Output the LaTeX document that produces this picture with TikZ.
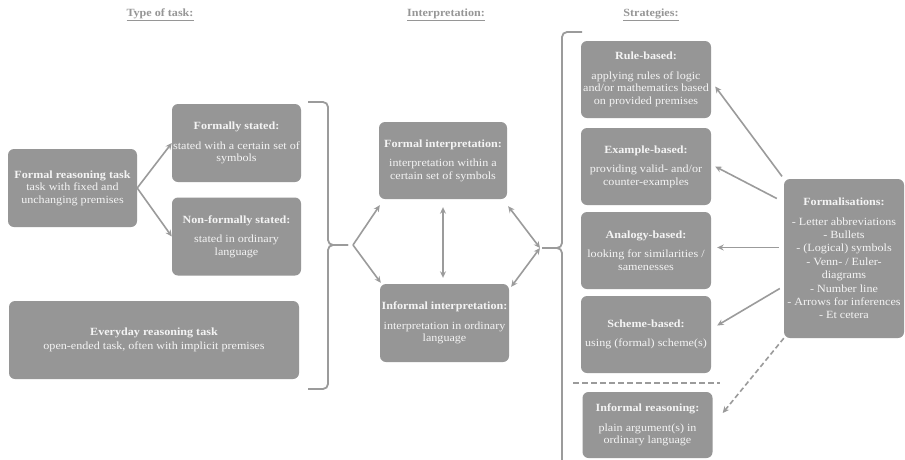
\documentclass[tikz,border=0pt]{standalone}
\usepackage{fontspec}
\setmainfont{Liberation Serif}[FakeStretch=1.1]
\usepackage{xcolor}
\usetikzlibrary{arrows.meta}

\definecolor{boxgray}{RGB}{150,150,150}
\definecolor{boxtext}{RGB}{244,244,244}
\definecolor{linegray}{RGB}{155,155,155}

\tikzset{
  box/.style={rectangle,rounded corners=6pt,fill=boxgray,text=boxtext,align=center,
    inner sep=1pt,minimum width=129pt,minimum height=78pt,
    font=\fontsize{11}{12.5}\selectfont},
  hdr/.style={text=boxgray,font=\fontsize{11}{12}\selectfont\bfseries},
  arr/.style={draw=linegray,line width=1.6pt,-{Stealth[length=6.5pt,width=6pt]}},
  darr/.style={draw=linegray,line width=1.6pt,{Stealth[length=6.5pt,width=6pt]}-{Stealth[length=6.5pt,width=6pt]}},
  brc/.style={draw=linegray,line width=1.8pt,rounded corners=5pt}
}

\begin{document}
\begin{tikzpicture}[x=1pt,y=-1pt]
        \useasboundingbox[fill=white] (0,0) rectangle (905,459);
        % Headers
        \node[hdr] (h1) at (160,15) {\underline{Type of task:}};
        \node[hdr] (h2) at (446,15) {\underline{Interpretation:}};
        \node[hdr] (h3) at (651,15) {\underline{Strategies:}};
        % Type of task
        \node[box] (ft) at (72.5,188) {\textbf{Formal reasoning task}\\task with fixed and\\unchanging premises};
        \node[box] (fs) at (236.5,143) {\textbf{Formally stated:}\\[7pt]stated with a certain set of\\symbols};
        \node[box] (nf) at (236.5,236.5) {\textbf{Non-formally stated:}\\[7pt]stated in ordinary\\language};
        \node[box,minimum width=290pt] (ev) at (154,340) {\textbf{Everyday reasoning task}\\[2pt]open-ended task, often with implicit premises};
        % Interpretation
        \node[box,minimum width=128pt,minimum height=77pt] (fi) at (443,160.5) {\textbf{Formal interpretation:}\\[7pt]interpretation within a\\certain set of symbols};
        \node[box] (ii) at (444.5,323) {\textbf{Informal interpretation:}\\[7pt]interpretation in ordinary\\language};
        % Strategies
        \node[box,minimum width=130pt,minimum height=77pt] (rb) at (646,79.5) {\textbf{Rule-based:}\\[7pt]applying rules of logic\\and/or mathematics based\\on provided premises};
        \node[box,minimum width=130pt,minimum height=77pt] (eb) at (646,166.5) {\textbf{Example-based:}\\[7pt]providing valid- and/or\\counter-examples};
        \node[box,minimum width=130pt,minimum height=77pt] (ab) at (646,250.5) {\textbf{Analogy-based:}\\[7pt]looking for similarities /\\samenesses};
        \node[box,minimum width=130pt,minimum height=77pt] (sb) at (646,334.5) {\textbf{Scheme-based:}\\[7pt]using (formal) scheme(s)};
        \node[box,minimum width=130pt,minimum height=66pt] (ir) at (647.5,425) {\textbf{Informal reasoning:}\\[7pt]plain argument(s) in\\ordinary language};
        % Formalisations
        \node[box,minimum width=120pt,minimum height=159pt,font=\fontsize{11}{13.4}\selectfont] (fm) at (844,258.5) {\textbf{Formalisations:}\\[6pt]- Letter abbreviations\\- Bullets\\- (Logical) symbols\\- Venn- / Euler-\\diagrams\\- Number line\\- Arrows for inferences\\- Et cetera};
        % Braces
        \draw[brc] (308,102) -| (328,245) -- (348,245);
        \draw[brc] (308,389) -| (328,245) -- (348,245);
        \draw[brc] (582,32) -| (562,248) -- (542,248);
        \draw[brc] (582,466) -| (562,248) -- (542,248);
        \coordinate (t1) at (353,245);
        \coordinate (t2) at (540,248);
        % Separator
        \draw[linegray,line width=1.8pt,dash pattern=on 6pt off 3pt] (573,383) -- (720,383);
        % Edges
        \draw[arr] (ft.east) -- (fs.west);
        \draw[arr] (ft.east) -- (nf.west);
        \draw[arr] (t1) -- ([xshift=1pt,yshift=-6pt]fi.south west);
        \draw[arr] (t1) -- ([xshift=1pt,yshift=1pt]ii.north west);
        \draw[darr] ([yshift=-8pt]fi.south) -- ([yshift=6pt]fi.south |- ii.north);
        \draw[darr] ([xshift=1pt,yshift=-7pt]fi.south east) -- (t2);
        \draw[darr] ([xshift=2pt,yshift=-3pt]ii.north east) -- (t2);
        \draw[arr,shorten <=3pt] (fm.north west) -- ([xshift=4pt,yshift=-7pt]rb.east);
        \draw[arr] ([xshift=-7pt,yshift=60pt]fm.west) -- ([xshift=4pt]eb.east);
        \draw[arr] ([xshift=-5pt,yshift=11pt]fm.west) -- ([xshift=6pt,yshift=3pt]ab.east);
        \draw[arr] ([xshift=-4pt,yshift=-30pt]fm.west) -- ([xshift=6pt,yshift=9pt]sb.east);
        \draw[arr,dash pattern=on 5pt off 3pt] (fm.south west) -- ([xshift=10pt,yshift=12pt]ir.east);
    \end{tikzpicture}
\end{document}
